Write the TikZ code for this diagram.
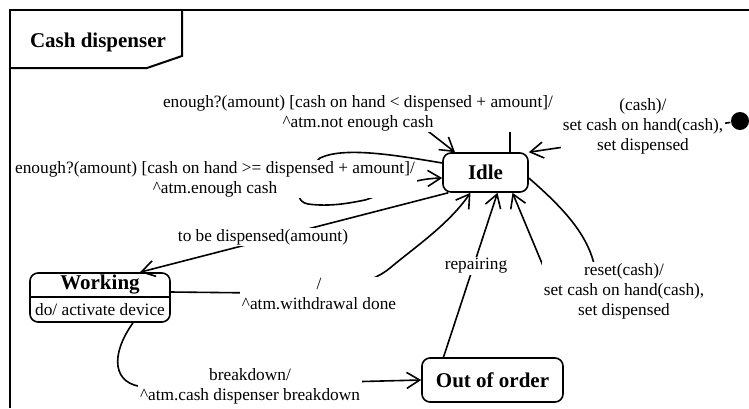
\documentclass[tikz,border=0pt]{standalone}
\usepackage{fontspec}
\setmainfont{Liberation Serif}
\usetikzlibrary{arrows.meta}
\begin{document}
\begin{tikzpicture}[x=1pt,y=-1pt,line width=1.6pt,
  statebox/.style={draw, rounded corners=8pt, fill=white, inner sep=0pt,
    font=\fontsize{21}{24}\selectfont\bfseries},
  lbl/.style={fill=white, align=center, inner xsep=2pt, inner ysep=1pt,
    font=\fontsize{17.3}{20}\selectfont},
  trans/.style={-{Straight Barb[length=13pt,width=16pt]}},
  framepen/.style={line width=2pt}
]
\useasboundingbox (0,0) rectangle (749,408);

% diagram frame with its name tab
\draw[framepen] (10,408) -- (10,10) -- (749,10);
\draw[framepen] (182,10) -- (182,56) -- (147,68) -- (10,68);
\node[font=\fontsize{21}{24}\selectfont\bfseries] (title) at (98,42) {Cash dispenser};

% states
\node[statebox, minimum width=85pt, minimum height=39pt] (idle) at (485.5,172.5) {Idle};
\node[statebox, minimum width=141pt, minimum height=44pt] (ooo) at (492.5,380) {Out of order};
\node[draw, rounded corners=8pt, fill=white, inner sep=0pt,
      minimum width=140pt, minimum height=49pt] (working) at (100,297.5) {};
\draw (working.west |- 0,297) -- (working.east |- 0,297);
\node[font=\fontsize{21}{24}\selectfont\bfseries] (wname) at (100,285) {Working};
\node[font=\fontsize{17.3}{20}\selectfont] (wdo) at (100,309.5) {do/ activate device};
\node[circle, fill, minimum size=18pt, inner sep=0pt] (init) at (740,121) {};

% transitions
\draw[trans] (init) -- (idle.north east);
\draw[trans] ([xshift=24.5pt]idle.north) -- ++(0,-42) -- ++(-109,0) -- ([xshift=-30.5pt]idle.north);
\draw[trans] (idle.west |- 0,163) .. controls (400,156) and (345,146) .. (320,158)
  .. controls (305,172) and (288,200) .. (308,204)
  .. controls (330,207) and (350,203) .. (365,200)
  .. controls (385,194) and (405,179) .. (idle.west |- 0,178);
\draw[trans] ([xshift=6pt]idle.south west) -- ([xshift=40pt]working.north);
\draw[trans] (working.east |- 0,292) -- (260,293) .. controls (330,293) and (370,285) .. (390,268)
  .. controls (415,247) and (448,225) .. ([xshift=-15pt]idle.south);
\draw[trans] ([xshift=-49pt]ooo.north) -- ([xshift=12pt]idle.south);
\draw[trans] (idle.east |- 0,178) .. controls (568,212) and (592,240) .. (596,275)
  -- (546,273) -- ([xshift=27pt]idle.south);
\draw[trans] ([xshift=33pt]working.south) .. controls (110,355) and (112,385) .. (145,387) -- (ooo.west);

% transition labels
\node[lbl] (lnot) at (358,113) {enough?(amount) [cash on hand < dispensed + amount]/\\\textasciicircum atm.not enough cash};
\node[lbl] (lenough) at (215,179) {enough?(amount) [cash on hand >= dispensed + amount]/\\\textasciicircum atm.enough cash};
\node[lbl] (ltbd) at (263,237) {to be dispensed(amount)};
\node[lbl] (lwd) at (319,294) {/\\\textasciicircum atm.withdrawal done};
\node[lbl] (lrep) at (476,266) {repairing};
\node[lbl] (lreset) at (624,291) {reset(cash)/\\set cash on hand(cash),\\set dispensed};
\node[lbl] (linit) at (643,126) {(cash)/\\set cash on hand(cash),\\set dispensed};
\node[lbl] (lbreak) at (250,386) {breakdown/\\\textasciicircum atm.cash dispenser breakdown};
\end{tikzpicture}
\end{document}
